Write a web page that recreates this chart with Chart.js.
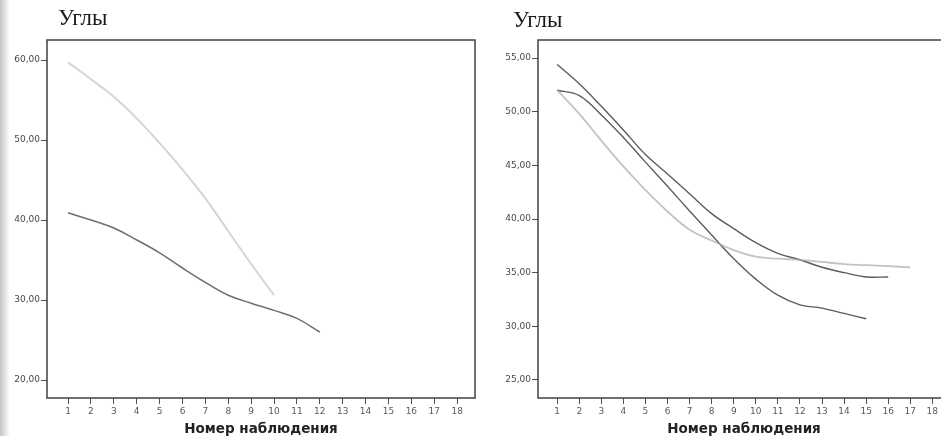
<!DOCTYPE html>
<html lang="ru">
<head>
<meta charset="utf-8">
<title>Углы</title>
<script src="https://cdn.jsdelivr.net/npm/chart.js@4.4.1/dist/chart.umd.min.js"></script>
<style>
  html, body { margin: 0; padding: 0; background: #fff; }
  #page { position: relative; width: 941px; height: 436px; overflow: hidden; background: #fff; }
  #page .edge { position: absolute; left: 0; top: 0; width: 10px; height: 436px;
    background: linear-gradient(to right, #c4c4c4, rgba(255,255,255,0)); }
  #page canvas { position: absolute; top: 0; }
  #leftChart { left: 0; }
  #rightChart { left: 470px; }
  .title { position: absolute; font-family: "Liberation Serif", serif; font-size: 23px; color: #1a1a1a; }
</style>
</head>
<body>
<div id="page">
  <div class="edge"></div>
  <canvas id="leftChart" width="480" height="436"></canvas>
  <canvas id="rightChart" width="480" height="436"></canvas>
  <div class="title" style="left:58px; top:5px;">Углы</div>
  <div class="title" style="left:513px; top:7px;">Углы</div>
</div>
<script>
// observation numbers along the x axis
const observations = [1, 2, 3, 4, 5, 6, 7, 8, 9, 10, 11, 12, 13, 14, 15, 16, 17, 18];
const xTitle = 'Номер наблюдения';

// left panel
const leftTicks = [20, 30, 40, 50, 60];
const leftFaint = [59.7, 57.6, 55.4, 52.7, 49.6, 46.3, 42.7, 38.6, 34.5, 30.6];
const leftDark = [40.9, 40.0, 39.0, 37.5, 35.9, 34.0, 32.2, 30.6, 29.6, 28.7, 27.7, 26.0];

// right panel
const rightTicks = [25, 30, 35, 40, 45, 50, 55];
const rightUpper = [54.4, 52.6, 50.5, 48.3, 46.0, 44.2, 42.35, 40.5, 39.1, 37.8, 36.8, 36.2, 35.5, 35.0, 34.6, 34.6];
const rightLower = [52.0, 51.5, 49.7, 47.6, 45.3, 43.05, 40.75, 38.5, 36.3, 34.4, 32.9, 32.0, 31.7, 31.2, 30.7];
const rightFaint = [52.0, 49.8, 47.3, 44.9, 42.7, 40.7, 39.0, 38.0, 37.1, 36.5, 36.3, 36.2, 36.0, 35.8, 35.7, 35.6, 35.5];

const tickFont = { family: 'DejaVu Sans', size: 9 };

function toPoints(values) {
  return values.map((v, i) => ({ x: observations[i], y: v }));
}

function commaLabel(v) {
  return v.toFixed(2).replace('.', ',');
}

// frame around the plotting area
const frame = {
  id: 'frame',
  afterDraw(chart) {
    const { ctx, chartArea: a } = chart;
    ctx.save();
    ctx.strokeStyle = '#404040';
    ctx.lineWidth = 1.5;
    ctx.strokeRect(a.left, a.top, a.right - a.left, a.bottom - a.top);
    ctx.restore();
  }
};

function series(values, color, width) {
  return {
    data: toPoints(values),
    borderColor: color,
    borderWidth: width,
    pointRadius: 0,
    tension: 0.4,
    fill: false
  };
}

function makeChart(id, datasets, yTicks, yRange, xRange, yWidth, padRight) {
  const ctx = document.getElementById(id).getContext('2d');
  return new Chart(ctx, {
    type: 'line',
    data: { datasets },
    plugins: [frame],
    options: {
      responsive: false,
      animation: false,
      events: [],
      layout: { padding: { top: 40, right: padRight, left: 0, bottom: 0 } },
      plugins: { legend: { display: false }, tooltip: { enabled: false } },
      scales: {
        x: {
          type: 'linear',
          min: xRange[0],
          max: xRange[1],
          afterBuildTicks: s => { s.ticks = observations.map(v => ({ value: v })); },
          afterFit: s => { s.height = 38; },
          grid: { drawOnChartArea: false, drawTicks: true, tickLength: 6, color: '#505050' },
          border: { display: false },
          ticks: { autoSkip: false, maxRotation: 0, padding: 2, color: '#5a5a5a', font: tickFont },
          title: {
            display: true,
            text: xTitle,
            color: '#222',
            font: { family: 'DejaVu Sans', size: 13.5, weight: 'bold', lineHeight: 1 },
            padding: { top: 0, bottom: 0 }
          }
        },
        y: {
          type: 'linear',
          min: yRange[0],
          max: yRange[1],
          afterBuildTicks: s => { s.ticks = yTicks.map(v => ({ value: v })); },
          afterFit: s => { s.width = yWidth; },
          grid: { drawOnChartArea: false, drawTicks: true, tickLength: 6, color: '#505050' },
          border: { display: false },
          ticks: { padding: 1, color: '#4a4a4a', font: tickFont, callback: v => commaLabel(v) }
        }
      }
    }
  });
}

makeChart('leftChart', [
  series(leftFaint, 'rgba(150,150,150,0.4)', 2),
  series(leftDark, '#6e6e6e', 1.5)
], leftTicks, [17.75, 62.5], [0.08, 18.78], 47, 5);

makeChart('rightChart', [
  series(rightFaint, 'rgba(170,170,170,0.7)', 1.8),
  series(rightUpper, '#5c5c5c', 1.4),
  series(rightLower, '#5c5c5c', 1.4)
], rightTicks, [23.32, 56.68], [0.13, 18.8], 68, 0);
</script>
</body>
</html>
